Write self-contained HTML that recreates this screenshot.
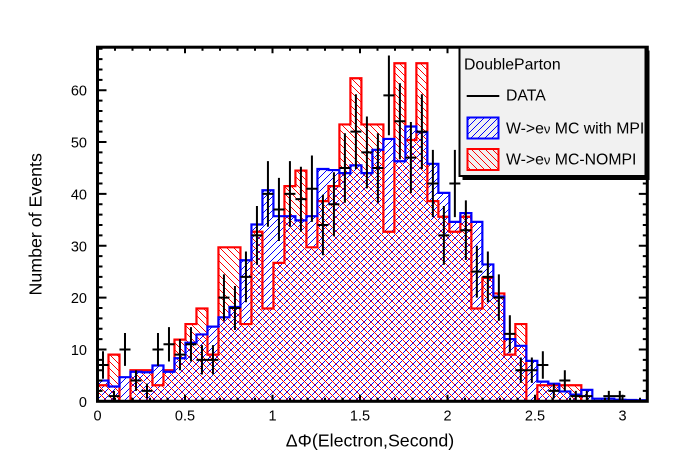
<!DOCTYPE html>
<html>
<head>
<meta charset="utf-8">
<style>
html,body{margin:0;padding:0;background:#fff;}
svg{display:block;}
text{font-family:"Liberation Sans",Arial,sans-serif;fill:#000;}
</style>
</head>
<body>
<svg width="696" height="472" viewBox="0 0 696 472" xmlns="http://www.w3.org/2000/svg">
<defs>
<pattern id="pb" patternUnits="userSpaceOnUse" x="0" y="0" width="7" height="7">
<g fill="#0000ff" shape-rendering="crispEdges">
<rect x="0" y="6" width="1" height="1"/><rect x="1" y="5" width="1" height="1"/><rect x="2" y="4" width="1" height="1"/><rect x="3" y="3" width="1" height="1"/><rect x="4" y="2" width="1" height="1"/><rect x="5" y="1" width="1" height="1"/><rect x="6" y="0" width="1" height="1"/>
</g>
</pattern>
<pattern id="pr" patternUnits="userSpaceOnUse" x="0" y="0" width="7" height="7">
<g fill="#ff0000" shape-rendering="crispEdges">
<rect x="0" y="0" width="1" height="1"/><rect x="1" y="1" width="1" height="1"/><rect x="2" y="2" width="1" height="1"/><rect x="3" y="3" width="1" height="1"/><rect x="4" y="4" width="1" height="1"/><rect x="5" y="5" width="1" height="1"/><rect x="6" y="6" width="1" height="1"/>
</g>
</pattern>
<clipPath id="cb" clipPathUnits="userSpaceOnUse">
<path transform="translate(97.5,401.3) scale(10.996,-5.185)" d="M0 0V4H1V2.85H2V4.65H3V5.7H4V5.6H5V6.9H6V5.7H7V8.3H8V11.3H9V12.9H10V14.4H11V16.2H12V18.2H13V27.2H14V34.1H15V40.7H16V35.7H17V35.7H18V34.9H19V35.7H20V44.8H21V44.6H22V44H23V45.5H24V44H25V48.5H26V50.6H27V46.3H28V53H29V51.9H30V45.8H31V40.2H32V34.6H33V36.3H34V34.6H35V26.4H36V20.2H37V12H38V10.7H39V7.8H40V3.8H41V3.4H42V1.9H43V1.3H44V2.2H45V0.5H46V0.5H47V0.3H48V0.25H49V0.2H50V0Z"/>
</clipPath>
<clipPath id="cr" clipPathUnits="userSpaceOnUse">
<path transform="translate(97.5,401.3) scale(10.996,-5.185)" d="M0 0V3.1H1V9H2V0H3V6H4V6H5V3.1H6V6H7V11.9H8V14.9H9V17.9H10V9H11V29.7H12V29.7H13V14.9H14V32.7H15V17.9H16V26.7H17V41.5H18V44.5H19V29.7H20V38.6H21V41.5H22V53.4H23V62.3H24V53.4H25V53.4H26V32.7H27V65.2H28V50.4H29V65.2H30V38.6H31V35.6H32V32.7H33V35.6H34V17.9H35V23.8H36V20.8H37V9H38V14.9H39V0H40V3.1H41V3.1H42V3.1H43V3.1H44V0H50Z"/>
</clipPath>
</defs>

<rect x="0" y="0" width="696" height="472" fill="#fff"/>

<rect x="96" y="40" width="554" height="363" fill="url(#pb)" clip-path="url(#cb)"/>
<rect x="96" y="40" width="554" height="363" fill="url(#pr)" clip-path="url(#cr)"/>

<path transform="translate(97.5,401.3) scale(10.996,-5.185)" fill="none" stroke="#ff0000" stroke-width="2.2" vector-effect="non-scaling-stroke" d="M0 0V3.1H1V9H2V0H3V6H4V6H5V3.1H6V6H7V11.9H8V14.9H9V17.9H10V9H11V29.7H12V29.7H13V14.9H14V32.7H15V17.9H16V26.7H17V41.5H18V44.5H19V29.7H20V38.6H21V41.5H22V53.4H23V62.3H24V53.4H25V53.4H26V32.7H27V65.2H28V50.4H29V65.2H30V38.6H31V35.6H32V32.7H33V35.6H34V17.9H35V23.8H36V20.8H37V9H38V14.9H39V0H40V3.1H41V3.1H42V3.1H43V3.1H44V0H50"/>
<path transform="translate(97.5,401.3) scale(10.996,-5.185)" fill="none" stroke="#0000ff" stroke-width="2.2" vector-effect="non-scaling-stroke" d="M0 0V4H1V2.85H2V4.65H3V5.7H4V5.6H5V6.9H6V5.7H7V8.3H8V11.3H9V12.9H10V14.4H11V16.2H12V18.2H13V27.2H14V34.1H15V40.7H16V35.7H17V35.7H18V34.9H19V35.7H20V44.8H21V44.6H22V44H23V45.5H24V44H25V48.5H26V50.6H27V46.3H28V53H29V51.9H30V45.8H31V40.2H32V34.6H33V36.3H34V34.6H35V26.4H36V20.2H37V12H38V10.7H39V7.8H40V3.8H41V3.4H42V1.9H43V1.3H44V2.2H45V0.5H46V0.5H47V0.3H48V0.25H49V0.2H50V0"/>

<path transform="translate(97.5,401.3) scale(10.996,-5.185)" fill="none" stroke="#000" stroke-width="2" vector-effect="non-scaling-stroke" d="M0 7H1M0.5 4.354V9.646M1 1H2M1.5 0V2M2 10H3M2.5 6.838V13.162M3 4H4M3.5 2V6M4 2H5M4.5 0.586V3.414M5 10H6M5.5 6.838V13.162M6 11H7M6.5 7.683V14.317M7 9H8M7.5 6V12M8 11H9M8.5 7.683V14.317M9 8H10M9.5 5.172V10.828M10 8H11M10.5 5.172V10.828M11 20H12M11.5 15.528V24.472M12 18H13M12.5 13.757V22.243M13 24H14M13.5 19.101V28.899M14 32H15M14.5 26.343V37.657M15 40H16M15.5 33.675V46.325M16 37H17M16.5 30.917V43.083M17 40H18M17.5 33.675V46.325M18 39H19M18.5 32.755V45.245M19 41H20M19.5 34.597V47.403M20 34H21M20.5 28.169V39.831M21 38H22M21.5 31.836V44.164M22 45H23M22.5 38.292V51.708M23 52H24M23.5 44.789V59.211M24 48H25M24.5 41.072V54.928M25 45H26M25.5 38.292V51.708M26 59H27M26.5 51.319V66.681M27 54H28M27.5 46.652V61.348M28 47H29M28.5 40.144V53.856M29 52H30M29.5 44.789V59.211M30 42H31M30.5 35.519V48.481M31 32H32M31.5 26.343V37.657M32 42H33M32.5 35.519V48.481M33 33H34M33.5 27.255V38.745M34 25H35M34.5 20V30M35 24H36M35.5 19.101V28.899M36 20H37M36.5 15.528V24.472M37 13H38M37.5 9.394V16.606M38 6H39M38.5 3.551V8.449M39 6H40M39.5 3.551V8.449M40 7H41M40.5 4.354V9.646M41 2H42M41.5 0.586V3.414M42 4H43M42.5 2V6M43 1H44M43.5 0V2M44 1H45M44.5 0V2M46 1H47M46.5 0V2M47 1H48M47.5 0V2"/>

<path transform="translate(97.5,401.3) scale(1,-5.185)" fill="none" stroke="#000" stroke-width="2" vector-effect="non-scaling-stroke" d="M0 10h9M0 20h9M0 30h9M0 40h9M0 50h9M0 60h9M0 2h5M0 4h5M0 6h5M0 8h5M0 12h5M0 14h5M0 16h5M0 18h5M0 22h5M0 24h5M0 26h5M0 28h5M0 32h5M0 34h5M0 36h5M0 38h5M0 42h5M0 44h5M0 46h5M0 48h5M0 52h5M0 54h5M0 56h5M0 58h5M0 62h5M0 64h5M0 66h5M0 68h5"/>
<path transform="translate(647.3,401.3) scale(1,-5.185)" fill="none" stroke="#000" stroke-width="2" vector-effect="non-scaling-stroke" d="M0 10h-8.5M0 20h-8.5M0 30h-8.5M0 40h-8.5M0 50h-8.5M0 60h-8.5M0 2h-4.5M0 4h-4.5M0 6h-4.5M0 8h-4.5M0 12h-4.5M0 14h-4.5M0 16h-4.5M0 18h-4.5M0 22h-4.5M0 24h-4.5M0 26h-4.5M0 28h-4.5M0 32h-4.5M0 34h-4.5M0 36h-4.5M0 38h-4.5M0 42h-4.5M0 44h-4.5M0 46h-4.5M0 48h-4.5M0 52h-4.5M0 54h-4.5M0 56h-4.5M0 58h-4.5M0 62h-4.5M0 64h-4.5M0 66h-4.5M0 68h-4.5"/>
<path transform="translate(97.5,401.3) scale(175,1)" fill="none" stroke="#000" stroke-width="2" vector-effect="non-scaling-stroke" d="M0.5 0v-6.5M1 0v-6.5M1.5 0v-6.5M2 0v-6.5M2.5 0v-6.5M3 0v-6.5M0.1 0v-3.5M0.2 0v-3.5M0.3 0v-3.5M0.4 0v-3.5M0.6 0v-3.5M0.7 0v-3.5M0.8 0v-3.5M0.9 0v-3.5M1.1 0v-3.5M1.2 0v-3.5M1.3 0v-3.5M1.4 0v-3.5M1.6 0v-3.5M1.7 0v-3.5M1.8 0v-3.5M1.9 0v-3.5M2.1 0v-3.5M2.2 0v-3.5M2.3 0v-3.5M2.4 0v-3.5M2.6 0v-3.5M2.7 0v-3.5M2.8 0v-3.5M2.9 0v-3.5M3.1 0v-3.5"/>
<path transform="translate(97.5,47.2) scale(175,1)" fill="none" stroke="#000" stroke-width="2" vector-effect="non-scaling-stroke" d="M0.5 0v6M1 0v6M1.5 0v6M2 0v6M2.5 0v6M3 0v6M0.1 0v3.5M0.2 0v3.5M0.3 0v3.5M0.4 0v3.5M0.6 0v3.5M0.7 0v3.5M0.8 0v3.5M0.9 0v3.5M1.1 0v3.5M1.2 0v3.5M1.3 0v3.5M1.4 0v3.5M1.6 0v3.5M1.7 0v3.5M1.8 0v3.5M1.9 0v3.5M2.1 0v3.5M2.2 0v3.5M2.3 0v3.5M2.4 0v3.5M2.6 0v3.5M2.7 0v3.5M2.8 0v3.5M2.9 0v3.5M3.1 0v3.5"/>

<rect x="97.5" y="47.2" width="549.8" height="354.1" fill="none" stroke="#000" stroke-width="3"/>

<g font-size="14.5" text-anchor="end">
<text x="87" y="406.8">0</text>
<text x="87" y="355">10</text>
<text x="87" y="303.1">20</text>
<text x="87" y="251.3">30</text>
<text x="87" y="199.4">40</text>
<text x="87" y="147.6">50</text>
<text x="87" y="95.7">60</text>
</g>
<g font-size="14.5" text-anchor="middle">
<text x="97.5" y="420.5">0</text>
<text x="185" y="420.5">0.5</text>
<text x="272.5" y="420.5">1</text>
<text x="360" y="420.5">1.5</text>
<text x="447.5" y="420.5">2</text>
<text x="535" y="420.5">2.5</text>
<text x="622.5" y="420.5">3</text>
</g>

<text x="370" y="446.5" font-size="17.8" text-anchor="middle">ΔΦ(Electron,Second)</text>
<text transform="translate(41.5,224.3) rotate(-90)" font-size="17.8" text-anchor="middle">Number of Events</text>

<rect x="462.5" y="50.5" width="187" height="129.5" fill="#000"/>
<rect x="459.5" y="47.5" width="186" height="128.5" fill="#f1f1f1" stroke="#000" stroke-width="2"/>
<text x="464" y="69.3" font-size="15.8">DoubleParton</text>
<line x1="466.7" y1="96" x2="499.3" y2="96" stroke="#000" stroke-width="2"/>
<text x="506" y="100.3" font-size="15.8">DATA</text>
<rect x="467.5" y="117.5" width="31" height="21" fill="url(#pb)" stroke="#0000ff" stroke-width="2"/>
<rect x="467.5" y="149" width="31" height="21" fill="url(#pr)" stroke="#ff0000" stroke-width="2"/>
<svg x="459.5" y="47.5" width="185" height="128" overflow="hidden">
<text x="46.5" y="85.8" font-size="15.8">W-&gt;e<tspan font-size="13">ν</tspan> MC with MPI</text>
<text x="46.5" y="116.8" font-size="15.8">W-&gt;e<tspan font-size="13">ν</tspan> MC-NOMPI</text>
</svg>
</svg>
</body>
</html>
